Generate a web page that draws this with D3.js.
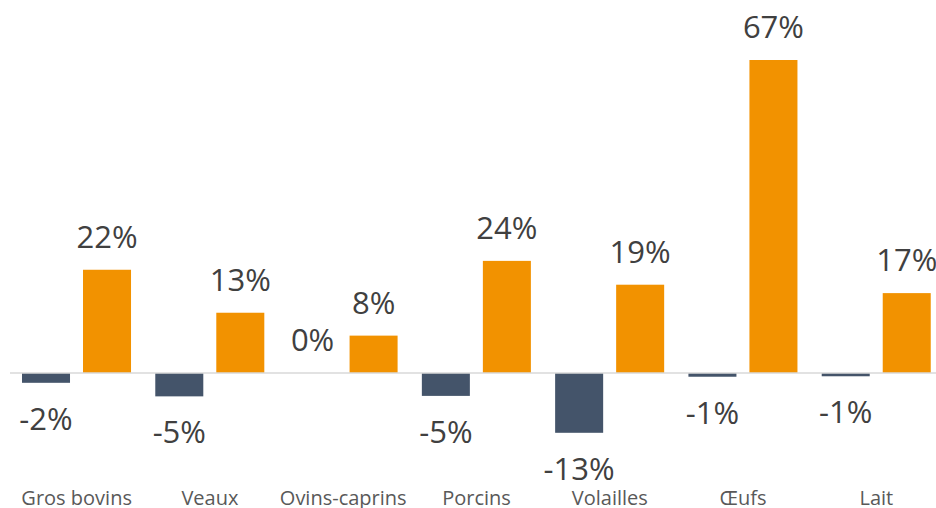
<!DOCTYPE html>
<html>
<head>
<meta charset="utf-8">
<script src="https://cdn.jsdelivr.net/npm/d3@7"></script>
<style>
  html, body { margin: 0; padding: 0; background: #fff; }
  svg { display: block; }
</style>
</head>
<body>
<svg id="chart" width="936" height="508"></svg>
<script>
const categories = ["Gros bovins", "Veaux", "Ovins-caprins", "Porcins", "Volailles", "Œufs", "Lait"];
const seriesNames = ["s1", "s2"];
const series1 = [-2.1, -5.0, 0, -4.9, -12.8, -0.8, -0.7];
const series2 = [22.1, 12.9, 8.0, 24.0, 18.9, 67.0, 17.1];
const seriesColors = ["#44546A", "#F29200"];

const W = 936, H = 508;
const svg = d3.select("#chart");

const x0 = d3.scaleBand().domain(categories).range([10, 943]).paddingInner(0).paddingOuter(0);
const bw = x0.bandwidth();
const x1 = d3.scaleBand().domain(seriesNames).range([bw * 0.09, bw * 0.908]).paddingInner(0.213).paddingOuter(0);
const perPct = 313 / 67;
const y = d3.scaleLinear().domain([-20, 70]).range([373 + 20 * perPct, 373 - 70 * perPct]);

const data = categories.map((c, i) => ({ cat: c, vals: [series1[i], series2[i]] }));

// bars
const g = svg.append("g");
data.forEach(d => {
  d.vals.forEach((v, j) => {
    const xs = x0(d.cat) + x1(seriesNames[j]);
    g.append("rect")
      .attr("x", xs)
      .attr("width", x1.bandwidth())
      .attr("y", Math.min(y(v), y(0)))
      .attr("height", Math.abs(y(v) - y(0)))
      .attr("fill", seriesColors[j]);
  });
});

// zero axis line
svg.append("line")
  .attr("x1", 10).attr("x2", W)
  .attr("y1", y(0)).attr("y2", y(0))
  .attr("stroke", "#D9D9D9").attr("stroke-width", 1.5);

// value labels
data.forEach(d => {
  d.vals.forEach((v, j) => {
    const xc = x0(d.cat) + x1(seriesNames[j]) + x1.bandwidth() / 2;
    const ty = v >= 0 ? y(v) - 22 : y(v) + 47;
    svg.append("text")
      .attr("x", xc).attr("y", ty)
      .attr("text-anchor", "middle")
      .attr("font-family", "'Open Sans', sans-serif")
      .attr("font-size", 31)
      .attr("fill", "#404040")
      .text(Math.round(v) + "%");
  });
});

// category axis labels
const xAxis = d3.axisBottom(x0).tickSize(0).tickPadding(0);
const ax = svg.append("g").attr("transform", "translate(0,490)").call(xAxis);
ax.select(".domain").remove();
ax.selectAll("text")
  .attr("font-family", "'Open Sans', sans-serif")
  .attr("font-size", 20)
  .attr("fill", "#595959")
  .attr("dy", "0.75em");
</script>
</body>
</html>
